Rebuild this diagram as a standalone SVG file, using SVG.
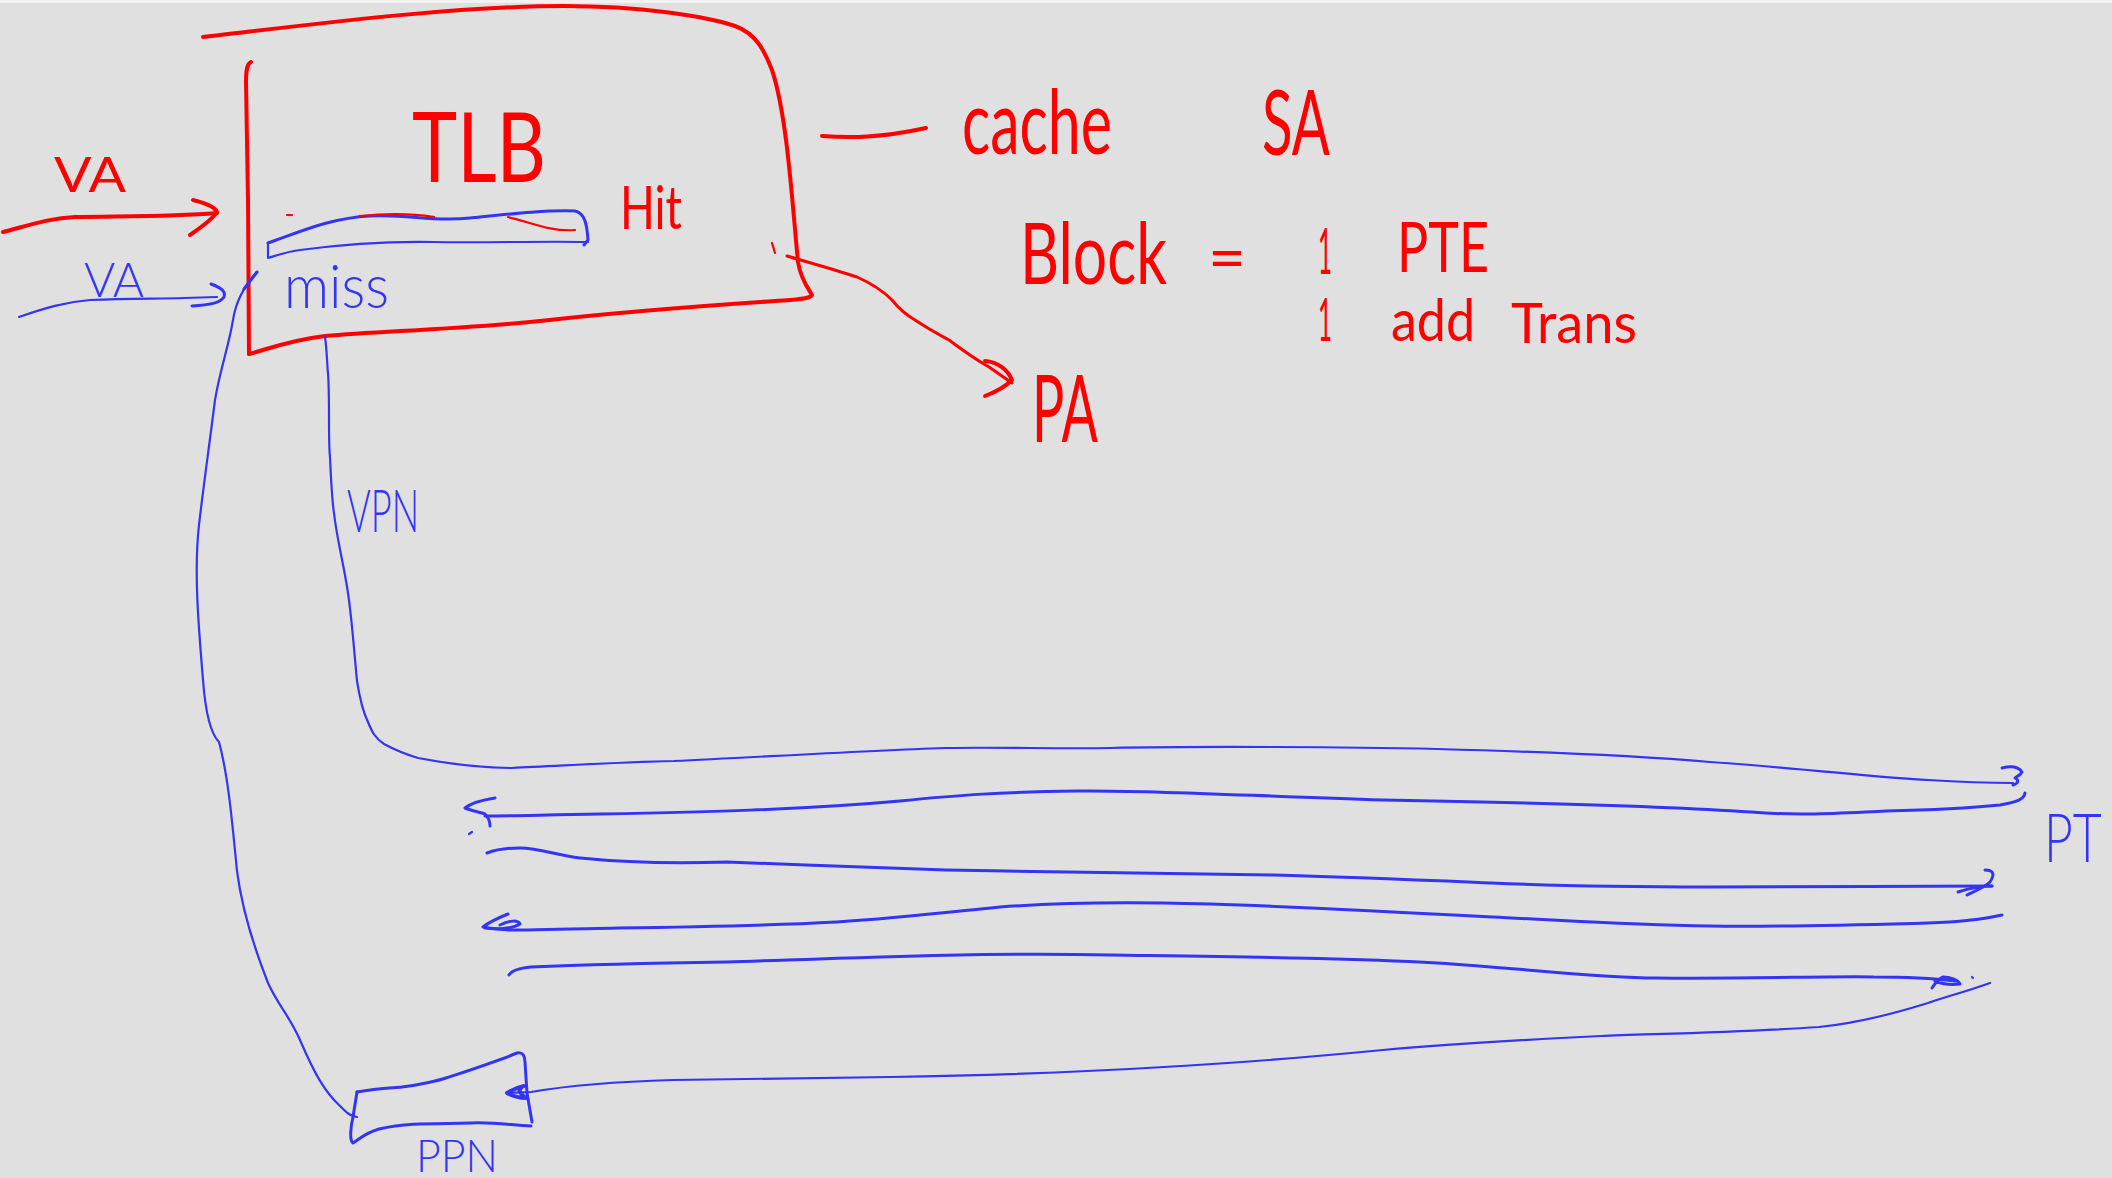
<svg xmlns="http://www.w3.org/2000/svg" width="2112" height="1178" viewBox="0 0 2112 1178">
  <style>
    .red { fill: none; stroke: #ff0000; stroke-linecap: round; stroke-linejoin: round; }
    .blue { fill: none; stroke: #3434f4; stroke-linecap: round; stroke-linejoin: round; }
    .w4 { stroke-width: 4; }
    .w3 { stroke-width: 3; }
    .w2 { stroke-width: 2.2; }
    .tr { fill: #ff0000; font-family: Lato, "Liberation Sans", sans-serif; font-weight: 400; }
    .tb { fill: #3434f4; font-family: Lato, "Liberation Sans", sans-serif; font-weight: 300; }
  </style>

  <!-- board -->
  <rect x="0" y="0" width="2112" height="1178" fill="#e0e0e0"/>
  <rect x="0" y="0" width="2112" height="3" fill="#f2f2f2"/>

  <!-- TLB block -->
  <g id="tlb">
    <path class="red w4" d="M203,37 C300,26 450,6 564,6 C640,6 705,16 735,26 C757,34 765,52 772,70 C787,115 792,200 798,262 C801,280 808,288 812,295 C810,299 795,300 775,301 C700,306 620,312 540,321 C450,330 380,331 325,336 C290,340 265,350 249,354"/>
    <path class="red w4" d="M251,62 C247,64 246,70 246,82 L248,200 L249,354"/>
    <text class="tr" x="412" y="182" font-size="97" textLength="134" lengthAdjust="spacingAndGlyphs">TLB</text>
    <!-- entry row -->
    <path class="blue w3" d="M268,243 C300,232 330,218 370,216 C410,214 430,222 470,218 C510,214 545,210 575,211 C585,213 587,225 588,240 L584,245"/>
    <path class="blue w2" d="M588,242 C540,241 480,243 434,242 C380,241 330,246 300,250 C285,252 275,256 268,258 L268,243"/>
    <path class="red w2" d="M287,215 L292,215 M360,216 C390,213 415,214 434,217 M508,217 C530,222 550,232 575,230"/>
    <path class="red w2" d="M772,243 L775,253"/>
  </g>

  <!-- PPN block -->
  <g id="ppn">
    <path class="blue w3" d="M357,1092 C380,1088 395,1088 402,1087 C420,1085 440,1080 446,1078 C470,1070 495,1062 517,1053 C523,1052 525,1056 525,1062 L527,1093 L532,1122"/>
    <path class="blue w3" d="M531,1126 C510,1125 495,1122 470,1123 C440,1124 410,1122 379,1129 C365,1133 358,1140 353,1143 C349,1140 351,1125 353,1117 L357,1092"/>
  </g>

  <!-- labels -->
  <g id="labels">
    <text class="tr" x="54" y="192" font-size="48" textLength="72" lengthAdjust="spacingAndGlyphs">VA</text>
    <text class="tr" x="620" y="229" font-size="60" textLength="62" lengthAdjust="spacingAndGlyphs">Hit</text>
    <text class="tr" x="962" y="154" font-size="90" textLength="150" lengthAdjust="spacingAndGlyphs">cache</text>
    <text class="tr" x="1262" y="155" font-size="92" textLength="68" lengthAdjust="spacingAndGlyphs">SA</text>
    <text class="tr" transform="translate(1020,284) scale(0.71,1)" x="0" y="0" font-size="86" textLength="207" lengthAdjust="spacingAndGlyphs">Block</text>
    <text class="tr" x="1208" y="280" font-size="62" textLength="38" lengthAdjust="spacingAndGlyphs">=</text>
    <text class="tr" x="1318" y="274" font-size="64" textLength="14" lengthAdjust="spacingAndGlyphs">1</text>
    <text class="tr" x="1397" y="272" font-size="70" textLength="92" lengthAdjust="spacingAndGlyphs">PTE</text>
    <text class="tr" x="1318" y="341" font-size="60" textLength="14" lengthAdjust="spacingAndGlyphs">1</text>
    <text class="tr" x="1391" y="341" font-size="58" textLength="84" lengthAdjust="spacingAndGlyphs">add</text>
    <text class="tr" x="1511" y="343" font-size="56" textLength="126" lengthAdjust="spacingAndGlyphs">Trans</text>
    <text class="tr" x="1032" y="442" font-size="94" textLength="66" lengthAdjust="spacingAndGlyphs">PA</text>
    <text class="tb" x="84" y="297" font-size="47" textLength="60" lengthAdjust="spacingAndGlyphs">VA</text>
    <text class="tb" x="284" y="308" font-size="62" textLength="105" lengthAdjust="spacingAndGlyphs">miss</text>
    <text class="tb" x="347" y="532" font-size="60" textLength="72" lengthAdjust="spacingAndGlyphs">VPN</text>
    <text class="tb" x="416" y="1172" font-size="46" textLength="82" lengthAdjust="spacingAndGlyphs">PPN</text>
    <text class="tb" transform="translate(2044,862) scale(0.76,1)" x="0" y="0" font-size="68" textLength="76" lengthAdjust="spacingAndGlyphs">PT</text>
  </g>

  <!-- connectors -->
  <g id="connectors">
    <!-- VA in (hit path) -->
    <path class="red w4" d="M3,232 C30,225 50,218 75,217 C120,216 170,217 217,213"/>
    <path class="red w4" d="M193,200 C205,203 215,207 217,212 C212,220 200,228 190,235"/>
    <!-- cache note -->
    <path class="red w4" d="M822,136 C850,138 880,138 926,128"/>
    <!-- PA out -->
    <path class="red w3" d="M787,256 C800,260 830,268 857,277 C875,285 885,293 892,300 C900,310 908,316 915,320 C930,330 940,335 949,340 C965,352 980,362 989,367 L1012,383"/>
    <path class="red w4" d="M985,361 C998,362 1008,370 1012,380 C1005,387 993,393 985,396"/>

    <!-- VA in (miss path) -->
    <path class="blue w2" d="M19,317 C45,308 65,302 90,300 C130,298 160,299 184,298 L217,297"/>
    <path class="blue w3" d="M211,284 C222,288 226,292 224,297 C220,303 210,305 192,306"/>
    <path class="blue w3" d="M244,289 L257,272"/>
    <!-- miss route down to PPN -->
    <path class="blue w2" d="M257,272 C245,285 236,300 233,320 C229,345 220,370 215,400 C210,440 203,490 199,525 C194,570 198,620 203,680 C206,720 212,735 219,742 C228,775 232,820 237,871 C242,910 255,950 268,983 C278,1005 290,1017 300,1040 C315,1075 325,1092 340,1106 C347,1113 350,1116 357,1117"/>

    <!-- VPN walk through page table -->
    <path class="blue w2" d="M325,337 C327,350 327,365 328,373 C330,400 328,440 330,457 C331,480 332,500 334,513 C337,540 343,560 348,593 C352,620 354,650 357,681 C360,700 363,712 368,722 C372,732 375,738 384,744 C395,750 405,754 418,758 C450,764 480,768 512,768 C560,766 620,762 674,761 C760,757 860,751 946,748 C1000,747 1060,749 1110,748 C1200,746 1350,747 1437,749 C1550,752 1650,757 1710,762 C1800,768 1880,778 1928,780 C1960,782 1990,783 2013,783"/>
    <path class="blue w3" d="M2002,768 C2010,766 2018,766 2022,772 C2020,776 2015,777 2015,778 C2019,780 2019,783 2013,785"/>

    <path class="blue w3" d="M2025,793 C2024,799 2018,802 2000,805 C1970,808 1930,810 1886,811 C1840,813 1800,816 1751,812 C1650,805 1500,802 1383,800 C1250,796 1150,790 1078,791 C1000,792 960,795 900,801 C800,810 700,812 600,814 C540,815 510,816 485,816"/>
    <path class="blue w3" d="M495,798 C482,800 470,804 465,808 C472,811 480,812 485,814 C489,818 490,822 490,826"/>
    <path class="blue w2" d="M469,834 L472,832"/>

    <path class="blue w3" d="M487,853 C495,850 505,848 520,848 C540,848 555,855 580,858 C620,862 670,864 727,862 C800,865 900,868 946,870 C1050,872 1150,873 1273,875 C1350,877 1420,880 1492,883 C1560,886 1640,887 1710,887 C1800,887 1900,886 1992,886"/>
    <path class="blue w3" d="M1985,870 C1992,870 1996,873 1990,882 C1985,887 1975,891 1967,895 M1958,892 C1970,888 1982,886 1992,886"/>

    <path class="blue w3" d="M2002,915 C1980,920 1960,922 1928,923 C1850,925 1780,927 1710,926 C1620,925 1560,920 1492,917 C1400,912 1250,904 1164,903 C1100,902 1040,904 1000,907 C950,912 900,918 837,922 C760,926 700,927 618,928 C570,929 530,930 509,930 L485,928"/>
    <path class="blue w3" d="M508,914 C498,918 488,923 483,927 C495,930 512,929 520,924 C518,920 510,920 500,925"/>

    <path class="blue w3" d="M509,975 C512,970 520,968 531,967 C600,964 660,963 727,962 C850,958 980,952 1110,955 C1250,957 1350,958 1437,963 C1530,969 1600,978 1655,978 C1750,979 1830,976 1874,977 C1900,977 1930,978 1955,981"/>
    <path class="blue w3" d="M1932,988 C1936,982 1940,978 1943,977 C1950,977 1958,980 1960,984 C1952,985 1942,984 1935,981"/>
    <path class="blue w2" d="M1972,977 L1973,978"/>

    <path class="blue w2" d="M1990,983 C1965,992 1945,997 1928,1003 C1880,1018 1850,1024 1819,1027 C1750,1032 1650,1034 1601,1036 C1520,1040 1450,1044 1383,1050 C1300,1058 1220,1064 1164,1067 C1050,1074 950,1076 891,1077 C800,1078 720,1079 673,1080 C600,1082 560,1087 531,1092 L507,1093"/>
    <path class="blue w4" d="M524,1086 C515,1088 510,1091 507,1093 C512,1096 520,1098 526,1098 C520,1094 518,1090 521,1088"/>
  </g>
</svg>
